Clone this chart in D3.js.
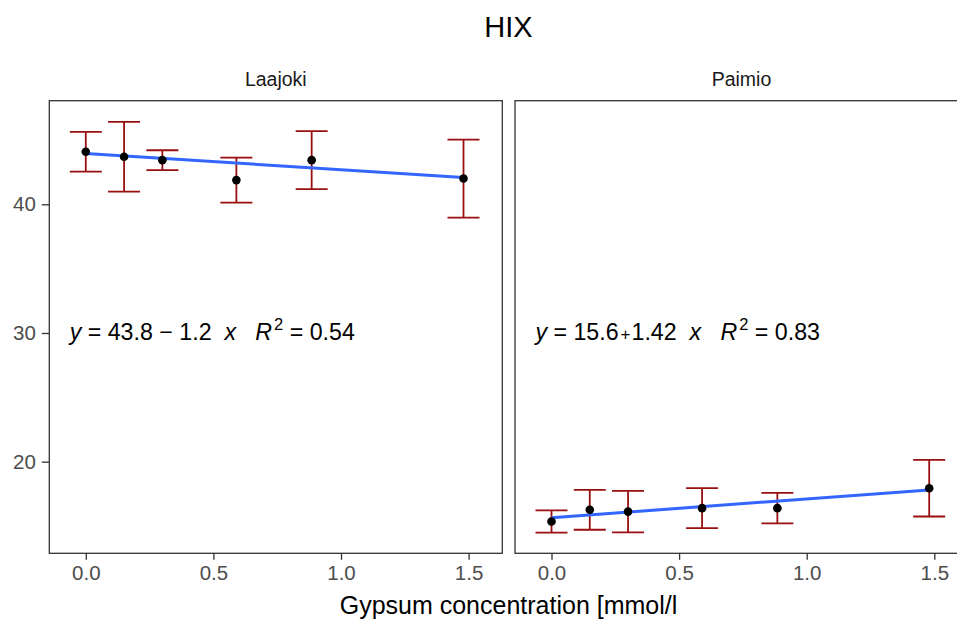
<!DOCTYPE html>
<html>
<head>
<meta charset="utf-8">
<script src="https://cdn.jsdelivr.net/npm/d3@7"></script>
<style>
  html, body { margin: 0; padding: 0; background: #fff; }
  svg { display: block; font-family: "Liberation Sans", Arial, sans-serif; }
  .eq { white-space: pre; }
</style>
</head>
<body>
<svg id="chart" width="957" height="620"></svg>
<script>
// ---- data ----
const sites = ["Laajoki", "Paimio"];
const gypsum = [0, 0.15, 0.3, 0.59, 0.885, 1.48];
const laajokiMean = [44.08, 43.69, 43.43, 41.88, 43.43, 42.0];
const laajokiSd   = [1.54, 2.71, 0.77, 1.75, 2.25, 3.03];
const paimioMean  = [15.35, 16.26, 16.12, 16.39, 16.39, 17.94];
const paimioSd    = [0.87, 1.55, 1.61, 1.55, 1.18, 2.2];
const fitIntercept = [43.95, 15.65];
const fitSlope     = [-1.26, 1.45];
const eqIntercept  = ["43.8", "15.6"];
const eqOp         = [" \u2212 ", "+"];
const eqSlope      = ["1.2", "1.42"];
const eqR2         = ["0.54", "0.83"];
const xTicks = [0, 0.5, 1.0, 1.5];
const yTicks = [20, 30, 40];
const titleText = "HIX";
const xTitle = "Gypsum concentration [mmol/l";

const means = [laajokiMean, paimioMean];
const sds = [laajokiSd, paimioSd];

// ---- layout ----
const svg = d3.select("#chart");
const panelTop = 100.7, panelBottom = 553.3;
const panelRanges = [[49.3, 502.3], [515, 968]];
const xDomain = [-0.143, 1.632];
const yDomain = [12.88, 48.05];
const y = d3.scaleLinear().domain(yDomain).range([panelBottom, panelTop]);

const tickColor = "#333333";
const labelColor = "#4D4D4D";
const font = "Liberation Sans, Arial, sans-serif";

// title
svg.append("text")
  .attr("x", 508.5).attr("y", 37)
  .attr("text-anchor", "middle")
  .attr("font-size", 29)
  .attr("fill", "#000")
  .text(titleText);

sites.forEach((site, i) => {
  const x = d3.scaleLinear().domain(xDomain).range(panelRanges[i]);
  const g = svg.append("g");

  // strip label
  g.append("text")
    .attr("x", (panelRanges[i][0] + panelRanges[i][1]) / 2)
    .attr("y", 86)
    .attr("text-anchor", "middle")
    .attr("font-size", 19.5)
    .attr("fill", "#1A1A1A")
    .text(site);

  // panel border
  g.append("rect")
    .attr("x", panelRanges[i][0]).attr("y", panelTop)
    .attr("width", panelRanges[i][1] - panelRanges[i][0])
    .attr("height", panelBottom - panelTop)
    .attr("fill", "none")
    .attr("stroke", tickColor)
    .attr("stroke-width", 1.3);

  // x axis
  const xAxis = d3.axisBottom(x).tickValues(xTicks).tickFormat(d3.format(".1f"))
    .tickSize(6.5).tickPadding(6);
  const gx = g.append("g").attr("transform", `translate(0,${panelBottom})`).call(xAxis);
  gx.select(".domain").remove();
  gx.selectAll(".tick line").attr("stroke", tickColor).attr("stroke-width", 1.3);
  gx.selectAll(".tick text").attr("fill", labelColor).attr("font-size", 20.5)
    .attr("font-family", font);

  // y axis only on first panel
  if (i === 0) {
    const yAxis = d3.axisLeft(y).tickValues(yTicks).tickSize(7.5).tickPadding(6);
    const gy = g.append("g").attr("transform", `translate(${panelRanges[i][0]},0)`).call(yAxis);
    gy.select(".domain").remove();
    gy.selectAll(".tick line").attr("stroke", tickColor).attr("stroke-width", 1.3);
    gy.selectAll(".tick text").attr("fill", labelColor).attr("font-size", 20.5)
      .attr("font-family", font);
  }

  const data = gypsum.map((gx_, k) => ({ x: gx_, m: means[i][k], s: sds[i][k] }));

  // error bars
  const capHalf = 16;
  const eb = g.append("g").attr("stroke", "#990F0F").attr("stroke-width", 1.8).attr("fill", "none");
  data.forEach(d => {
    const cx = x(d.x), y1 = y(d.m + d.s), y0 = y(d.m - d.s);
    eb.append("line").attr("x1", cx).attr("x2", cx).attr("y1", y1).attr("y2", y0);
    eb.append("line").attr("x1", cx - capHalf).attr("x2", cx + capHalf).attr("y1", y1).attr("y2", y1);
    eb.append("line").attr("x1", cx - capHalf).attr("x2", cx + capHalf).attr("y1", y0).attr("y2", y0);
  });

  // regression line
  const xr = d3.extent(gypsum);
  const line = d3.line().x(d => x(d)).y(d => y(fitIntercept[i] + fitSlope[i] * d));
  g.append("path").datum(xr)
    .attr("d", line)
    .attr("fill", "none")
    .attr("stroke", "#3366FF")
    .attr("stroke-width", 3);

  // points
  g.selectAll("circle.pt").data(data).enter().append("circle")
    .attr("cx", d => x(d.x)).attr("cy", d => y(d.m))
    .attr("r", 4.3).attr("fill", "#000");

  // equation label
  const t = g.append("text").attr("class", "eq")
    .attr("x", x(-0.063)).attr("y", y(30) + 7.5)
    .attr("font-size", 23.2).attr("fill", "#000");
  t.append("tspan").attr("font-style", "italic").text("y");
  t.append("tspan").text(" = " + eqIntercept[i]);
  if (i === 0) {
    t.append("tspan").text(eqOp[i]);
  } else {
    t.append("tspan").attr("dx", 2).attr("font-size", 17).text(eqOp[i]);
  }
  t.append("tspan").attr("dx", i === 0 ? 0 : 1).text(eqSlope[i] + "  ");
  t.append("tspan").attr("font-style", "italic").text("x");
  t.append("tspan").text("   ");
  t.append("tspan").attr("font-style", "italic").text("R");
  t.append("tspan").attr("dx", 2).attr("dy", -10).attr("font-size", 16.5).text("2");
  t.append("tspan").attr("dy", 10).text(" = " + eqR2[i]);
});

// x axis title
svg.append("text")
  .attr("x", 508.5).attr("y", 613.5)
  .attr("text-anchor", "middle")
  .attr("font-size", 25)
  .attr("fill", "#000")
  .text(xTitle);
</script>
</body>
</html>
